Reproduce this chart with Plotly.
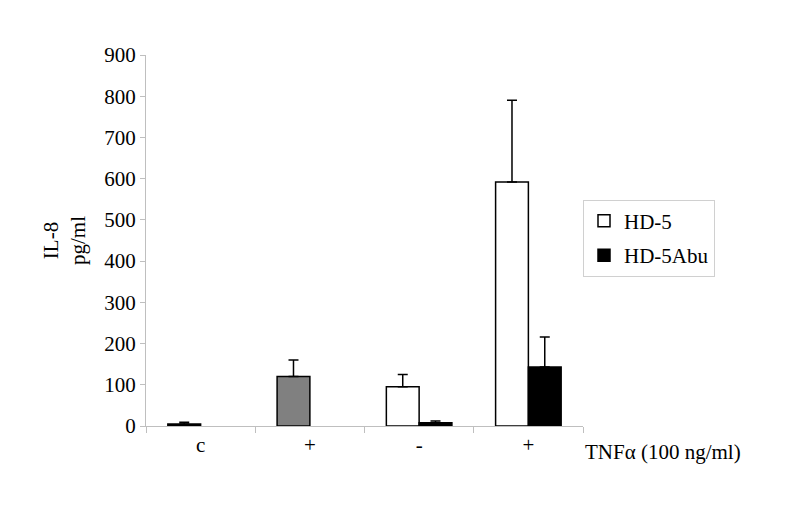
import plotly.graph_objects as go

# IL-8 Sekretion, pg/ml
tick_pos = [0, 1, 2, 3]
tick_labels = ['c', '+', '-', '+']

ctrl_x = [0]
ctrl_y = [5]
ctrl_err = [4]

tnf_x = [1]
tnf_y = [120]
tnf_err = [40]

hd5_x = [2, 3]
hd5_y = [95, 592]
hd5_err = [30, 198]

abu_x = [2, 3]
abu_y = [8, 143]
abu_err = [4, 73]

FONT = '"Liberation Serif", "Times New Roman", serif'
bw = 0.3
txt = dict(family=FONT, size=21, color='black')


def err(vals):
    return dict(type='data', array=vals, symmetric=False, arrayminus=[0] * len(vals),
                color='black', thickness=1.5, width=5)


fig = go.Figure()

fig.add_trace(go.Bar(x=ctrl_x, y=ctrl_y, width=bw, offset=-bw, showlegend=False,
                     marker=dict(color='black', line=dict(color='black', width=1.5)),
                     error_y=err(ctrl_err)))
fig.add_trace(go.Bar(x=tnf_x, y=tnf_y, width=bw, offset=-bw, showlegend=False,
                     marker=dict(color='#808080', line=dict(color='black', width=1.5)),
                     error_y=err(tnf_err)))
fig.add_trace(go.Bar(x=hd5_x, y=hd5_y, width=bw, offset=-bw, name='HD-5', legendgroup='a',
                     marker=dict(color='white', line=dict(color='black', width=1.5)),
                     error_y=err(hd5_err)))
fig.add_trace(go.Bar(x=abu_x, y=abu_y, width=bw, offset=0, name='HD-5Abu', legendgroup='b',
                     marker=dict(color='black', line=dict(color='black', width=1.5)),
                     error_y=err(abu_err)))

fig.update_layout(
    width=800, height=512,
    barmode='overlay',
    plot_bgcolor='white', paper_bgcolor='white',
    margin=dict(l=138, r=225, t=47, b=94),
    font=txt,
    legend=dict(x=1.0, y=0.61, xanchor='left', yanchor='top',
                bordercolor='#d0d0d0', borderwidth=1, traceorder='grouped',
                tracegroupgap=4, font=txt, itemwidth=30),
    xaxis=dict(range=[-0.5, 3.5], tickvals=tick_pos, ticktext=tick_labels,
               tickfont=txt, ticks='', showline=True, linecolor='#bfbfbf', linewidth=1,
               showgrid=False, zeroline=False,
               minor=dict(tickvals=[-0.5, 0.5, 1.5, 2.5, 3.5], ticks='outside',
                          ticklen=6, tickcolor='#bfbfbf')),
    yaxis=dict(range=[0, 900], dtick=100, ticks='outside', ticklen=5, tickfont=txt,
               tickcolor='#bfbfbf', showline=True, linecolor='#bfbfbf',
               showgrid=False, zeroline=False,
               title=dict(text='IL-8<br>pg/ml', standoff=12, font=txt)),
)

fig.add_annotation(text='TNFα (100 ng/ml)', xref='paper', yref='paper',
                   x=1.0, y=-0.07, xanchor='left', yanchor='middle',
                   showarrow=False, font=txt)

fig.write_html('out.html')
